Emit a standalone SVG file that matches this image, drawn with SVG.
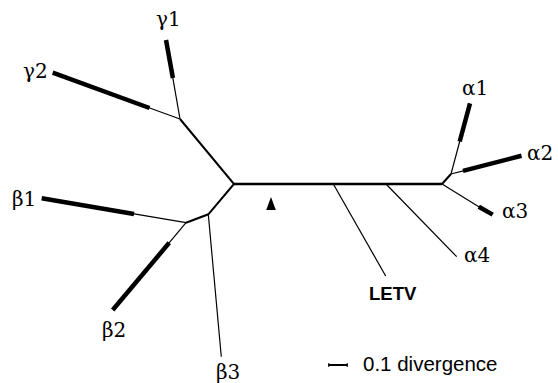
<svg xmlns="http://www.w3.org/2000/svg" width="558" height="383" viewBox="0 0 558 383">
  <style>
    .thin { stroke: #000; stroke-width: 1.2; fill: none; stroke-linecap: butt; }
    .mid { stroke: #000; stroke-width: 2; fill: none; stroke-linejoin: miter; }
    .main { stroke: #000; stroke-width: 2.6; fill: none; }
    .thick { stroke: #000; stroke-width: 4.5; fill: none; stroke-linecap: butt; }
    .greek { font-family: "DejaVu Serif", "Liberation Serif", serif; font-size: 20px; fill: #000; }
    .sans { font-family: "Liberation Sans", Arial, sans-serif; fill: #000; }
  </style>
  <rect width="558" height="383" fill="#fff"/>

  <!-- tree branches -->
  <g id="connectors">
    <!-- backbone and internal branches -->
    <line class="main" x1="234" y1="184" x2="442" y2="184"/>
    <polyline class="mid" points="180,119 234,184 208.3,214.3 186,222.7"/>
    <line class="thin" x1="333.3" y1="184" x2="385.7" y2="276"/>
    <line class="thin" x1="386" y1="184" x2="456.7" y2="256.7"/>
    <!-- gamma clade -->
    <line class="thin" x1="180" y1="119" x2="172.6" y2="76.7"/>
    <line class="thick" x1="172.9" y1="78" x2="166" y2="40"/>
    <line class="thin" x1="180" y1="119" x2="148.3" y2="107.5"/>
    <line class="thick" x1="149.5" y1="108" x2="52.7" y2="72.7"/>
    <!-- beta clade -->
    <line class="thin" x1="186" y1="222.7" x2="132.7" y2="213.7"/>
    <line class="thick" x1="134" y1="214" x2="41.7" y2="198.3"/>
    <line class="thin" x1="186" y1="222.7" x2="168.3" y2="243.8"/>
    <line class="thick" x1="169.2" y1="242.8" x2="112.7" y2="310"/>
    <line class="thin" x1="208.3" y1="214.3" x2="221.3" y2="356.7"/>
    <!-- alpha clade -->
    <line class="mid" x1="442" y1="184" x2="451" y2="174"/>
    <line class="thin" x1="451" y1="174" x2="460.1" y2="140"/>
    <line class="thick" x1="459.7" y1="141.5" x2="470" y2="103.3"/>
    <line class="thin" x1="451" y1="174" x2="464.3" y2="170.6"/>
    <line class="thick" x1="463" y1="170.9" x2="521.5" y2="155.8"/>
    <line class="thin" x1="442" y1="184" x2="480" y2="207.5"/>
    <line class="thick" x1="478.8" y1="206.7" x2="492.7" y2="214.6"/>
  </g>

  <!-- root marker -->
  <polygon points="271,197 266.2,210 275.8,210" fill="#000"/>

  <!-- leaf labels -->
  <g id="gamma1"><text class="greek" x="156" y="26">γ1</text></g>
  <g id="gamma2"><text class="greek" x="23" y="78">γ2</text></g>
  <g id="beta1"><text class="greek" x="12" y="206">β1</text></g>
  <g id="beta2"><text class="greek" x="102" y="337">β2</text></g>
  <g id="beta3"><text class="greek" x="216" y="379">β3</text></g>
  <g id="alpha1"><text class="greek" x="462" y="95">α1</text></g>
  <g id="alpha2"><text class="greek" x="527" y="160">α2</text></g>
  <g id="alpha3"><text class="greek" x="502" y="218">α3</text></g>
  <g id="alpha4"><text class="greek" x="464" y="262">α4</text></g>
  <g id="letv"><text class="sans" x="369" y="300" font-size="18.5" font-weight="bold">LETV</text></g>

  <!-- scale bar -->
  <g id="scale">
    <line x1="328.3" y1="365" x2="347.7" y2="365" stroke="#000" stroke-width="2"/>
    <line x1="328.8" y1="363" x2="328.8" y2="367" stroke="#000" stroke-width="1"/>
    <line x1="347.2" y1="363" x2="347.2" y2="367" stroke="#000" stroke-width="1"/>
    <text class="sans" x="363" y="371" font-size="20.5">0.1 divergence</text>
  </g>
</svg>
